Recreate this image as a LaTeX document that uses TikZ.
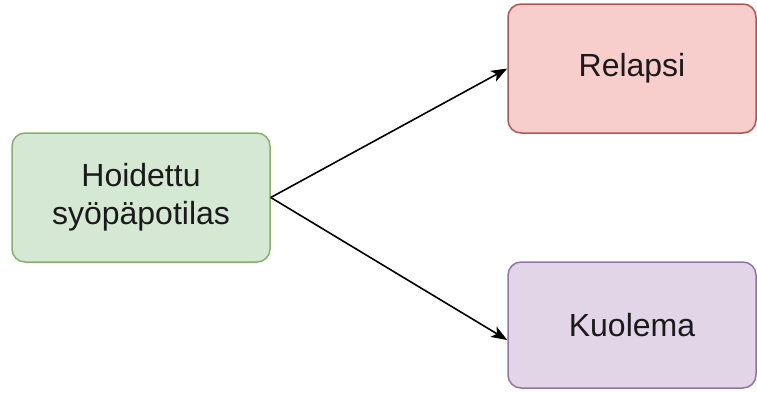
\documentclass[tikz,border=0pt]{standalone}
\usepackage{fontspec}
\setmainfont{Liberation Sans}
\usetikzlibrary{arrows.meta}
\definecolor{gfill}{HTML}{D5E8D4}
\definecolor{gdraw}{HTML}{82B366}
\definecolor{rfill}{HTML}{F8CECC}
\definecolor{rdraw}{HTML}{B85450}
\definecolor{pfill}{HTML}{E1D5E7}
\definecolor{pdraw}{HTML}{9673A6}
\definecolor{txt}{HTML}{1A1A1A}
\tikzset{
  box/.style={rectangle, rounded corners=13pt, line width=1.5pt, align=center,
    text=txt, font=\fontsize{32}{38}\selectfont, inner sep=0pt},
  arr/.style={line width=1.6pt, -{Stealth[length=16pt,width=12pt,inset=4pt]}}
}
\begin{document}
\begin{tikzpicture}[x=1pt,y=-1pt]
\useasboundingbox (0,0) rectangle (757,392);
\node[box, draw=gdraw, fill=gfill, minimum width=258pt, minimum height=129pt] (hoid) at (141,197.5) {Hoidettu\\syöpäpotilas};
\node[box, draw=rdraw, fill=rfill, minimum width=248pt, minimum height=129pt] (rel) at (632,68.5) {Relapsi};
\node[box, draw=pdraw, fill=pfill, minimum width=248pt, minimum height=126pt] (kuo) at (632,325) {Kuolema};
\draw[arr] (hoid.east) -- (rel.west);
\draw[arr] (hoid.east) -- ([yshift=-15pt]kuo.west);
\end{tikzpicture}
\end{document}
